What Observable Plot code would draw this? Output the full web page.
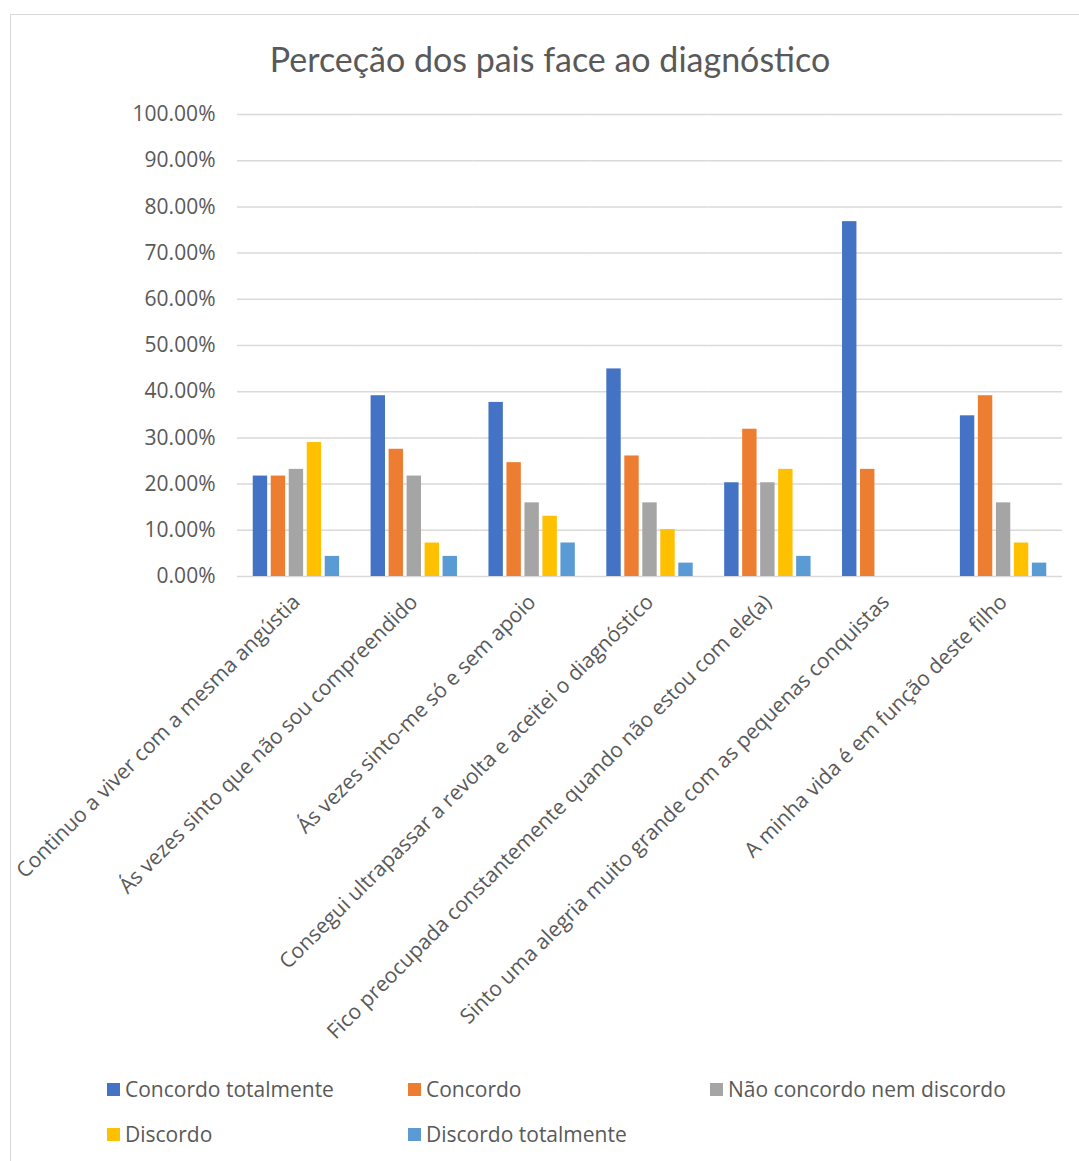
<!DOCTYPE html>
<html>
<head>
<meta charset="utf-8">
<script src="https://cdn.jsdelivr.net/npm/d3@7"></script>
<script src="https://cdn.jsdelivr.net/npm/@observablehq/plot@0.6"></script>
<style>
  html, body { margin: 0; padding: 0; background: #fff; }
  body { width: 1079px; height: 1161px; position: relative; overflow: hidden; font-family: "Open Sans", Lato, sans-serif; color: #595959; }
  #frame { position: absolute; left: 10px; top: 14px; width: 1100px; height: 1200px; border: 1px solid #d9d9d9; box-sizing: border-box; }
  #title { position: absolute; left: 10px; width: 1080px; top: 37px; text-align: center; font-family: Lato, sans-serif; font-size: 34px; line-height: 44px; color: #595959; }
  #chart { position: absolute; left: 0; top: 100px; }
  #legend { position: absolute; left: 107px; top: 1076px; display: grid; grid-template-columns: 301px 302px 340px; grid-auto-rows: 45px; font-size: 21px; }
  .item { display: flex; align-items: center; height: 26px; white-space: nowrap; }
  .sw { width: 13px; height: 13px; margin-right: 5px; flex: none; }
</style>
</head>
<body>
<div id="frame"></div>
<div id="title">Perceção dos pais face ao diagnóstico</div>
<div id="chart"></div>
<div id="legend"></div>
<script>
const categories = [
  "Continuo a viver com a mesma angústia",
  "Ás vezes sinto que não sou compreendido",
  "Ás vezes sinto-me só e sem apoio",
  "Consegui ultrapassar a revolta e aceitei o diagnóstico",
  "Fico preocupada constantemente quando não estou com ele(a)",
  "Sinto uma alegria muito grande com as pequenas conquistas",
  "A minha vida é em função deste filho"
];
const seriesNames = ["Concordo totalmente", "Concordo", "Não concordo nem discordo", "Discordo", "Discordo totalmente"];
const concordoTotalmente = [21.74, 39.13, 37.68, 44.93, 20.29, 76.81, 34.78];
const concordo           = [21.74, 27.54, 24.64, 26.09, 31.88, 23.19, 39.13];
const naoConcordoNem     = [23.19, 21.74, 15.94, 15.94, 20.29, 0, 15.94];
const discordo           = [28.99, 7.25, 13.04, 10.14, 23.19, 0, 7.25];
const discordoTotalmente = [4.35, 4.35, 7.25, 2.90, 4.35, 0, 2.90];
const seriesColors = ["#4472C4", "#ED7D31", "#A5A5A5", "#FFC000", "#5B9BD5"];
const yTicks = [0, 10, 20, 30, 40, 50, 60, 70, 80, 90, 100];

const seriesValues = [concordoTotalmente, concordo, naoConcordoNem, discordo, discordoTotalmente];
const data = [];
categories.forEach((c, i) => {
  seriesNames.forEach((s, j) => {
    data.push({category: c, series: s, value: seriesValues[j][i]});
  });
});

const chart = Plot.plot({
  width: 1079,
  height: 970,
  marginTop: 14,
  marginBottom: 494,
  marginLeft: 237,
  marginRight: 17,
  style: {fontFamily: "'Open Sans', Lato, sans-serif", fontSize: "21px", color: "#595959", background: "transparent", overflow: "visible"},
  fx: {domain: categories, padding: 0, round: false, label: null},
  x: {domain: seriesNames, paddingInner: 0.2, paddingOuter: 0.875, round: false, axis: null},
  y: {domain: [0, 100], label: null},
  color: {domain: seriesNames, range: seriesColors},
  marks: [
    Plot.gridY(yTicks, {stroke: "#d9d9d9", strokeOpacity: 1, strokeWidth: 1.5}),
    Plot.barY(data, {fx: "category", x: "series", y: "value", fill: "series"}),
    Plot.axisY(yTicks, {tickSize: 0, tickPadding: 22, tickFormat: d => d.toFixed(2) + "%", label: null}),
    Plot.axisFx({anchor: "bottom", tickRotate: -45, tickSize: 0, tickPadding: 22, label: null})
  ]
});
document.getElementById("chart").appendChild(chart);

const legend = document.getElementById("legend");
seriesNames.forEach((s, j) => {
  const it = document.createElement("div");
  it.className = "item";
  const sw = document.createElement("span");
  sw.className = "sw";
  sw.style.background = seriesColors[j];
  it.appendChild(sw);
  it.appendChild(document.createTextNode(s));
  legend.appendChild(it);
});
</script>
</body>
</html>
